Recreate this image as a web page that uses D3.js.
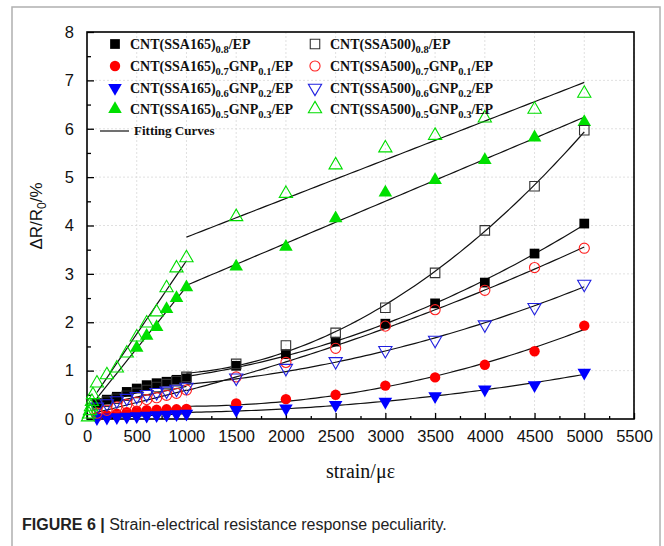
<!DOCTYPE html>
<html>
<head>
<meta charset="utf-8">
<script src="https://cdn.jsdelivr.net/npm/d3@7"></script>
<style>
  body { margin: 0; background: #fff; }
  svg { display: block; }
</style>
</head>
<body>
<div id="chart"></div>
<script>
// strain points (με)
const STRAIN_START = [10, 20, 30, 40, 50, 60];
const STRAIN_LOW = [100, 200, 300, 400, 500, 600, 700, 800, 900, 1000];
const STRAIN_HIGH = [1500, 2000, 2500, 3000, 3500, 4000, 4500, 5000];

// ΔR/R0 (%), null = no marker
const SSA165_08_LOW = [0.33, 0.40, 0.46, 0.56, 0.63, 0.70, 0.74, 0.77, 0.81, 0.84];
const SSA165_08_HIGH = [1.10, 1.34, 1.60, 1.97, 2.39, 2.82, 3.42, 4.04];
const SSA165_07_LOW = [0.05, 0.08, 0.11, 0.14, 0.17, 0.18, 0.19, 0.20, 0.20, 0.21];
const SSA165_07_HIGH = [0.32, 0.41, 0.50, 0.69, 0.86, 1.12, 1.40, 1.93];
const SSA165_06_LOW = [0.02, 0.03, 0.04, 0.05, 0.06, 0.07, 0.08, 0.09, 0.10, 0.11];
const SSA165_06_HIGH = [0.19, 0.22, 0.29, 0.36, 0.47, 0.61, 0.70, 0.96];
const SSA165_05_LOW = [null, null, null, null, 1.47, 1.72, 1.90, 2.27, 2.50, 2.72];
const SSA165_05_HIGH = [3.15, 3.56, 4.15, 4.68, 4.94, 5.35, 5.82, 6.14];

const SSA500_08_LOW = [0.30, 0.36, 0.42, 0.48, 0.54, 0.60, 0.66, 0.72, 0.78, 0.87];
const SSA500_08_HIGH = [1.14, 1.52, 1.78, 2.30, 3.02, 3.90, 4.81, 5.97];
const SSA500_07_LOW = [0.12, 0.18, 0.25, 0.30, 0.35, 0.40, 0.44, 0.49, 0.53, 0.60];
const SSA500_07_HIGH = [0.87, 1.17, 1.46, 1.92, 2.26, 2.66, 3.13, 3.53];
const SSA500_06_LOW = [0.25, 0.32, 0.38, 0.43, 0.47, 0.51, 0.55, 0.58, 0.62, 0.66];
const SSA500_06_HIGH = [0.85, 1.05, 1.19, 1.42, 1.63, 1.95, 2.31, 2.79];
const SSA500_05_START = [0.04, 0.10, 0.17, 0.25, 0.36, 0.50];
const SSA500_05_LOW = [0.74, 0.91, 1.05, 1.36, 1.69, 1.98, 2.21, 2.71, 3.12, 3.33];
const SSA500_05_HIGH = [4.18, 4.66, 5.25, 5.60, 5.86, 6.22, 6.40, 6.73];

const X_TICKS = d3.range(0, 5501, 500);
const Y_TICKS = d3.range(0, 9, 1);

const SERIES = [
  { label: [['CNT(SSA165)', 0], ['0.8', 1], ['/EP', 0]], low: SSA165_08_LOW, high: SSA165_08_HIGH,
    shape: 'square', fill: true, color: '#000000', fit: 'quad' },
  { label: [['CNT(SSA165)', 0], ['0.7', 1], ['GNP', 0], ['0.1', 1], ['/EP', 0]], low: SSA165_07_LOW, high: SSA165_07_HIGH,
    shape: 'circle', fill: true, color: '#ff0000', fit: 'quad' },
  { label: [['CNT(SSA165)', 0], ['0.6', 1], ['GNP', 0], ['0.2', 1], ['/EP', 0]], low: SSA165_06_LOW, high: SSA165_06_HIGH,
    shape: 'down', fill: true, color: '#0000ff', fit: 'quad' },
  { label: [['CNT(SSA165)', 0], ['0.5', 1], ['GNP', 0], ['0.3', 1], ['/EP', 0]], low: SSA165_05_LOW, high: SSA165_05_HIGH,
    shape: 'up', fill: true, color: '#00e000', fit: 'linear' },
  { label: [['CNT(SSA500)', 0], ['0.8', 1], ['/EP', 0]], low: SSA500_08_LOW, high: SSA500_08_HIGH,
    shape: 'square', fill: false, color: '#333333', fit: 'quad' },
  { label: [['CNT(SSA500)', 0], ['0.7', 1], ['GNP', 0], ['0.1', 1], ['/EP', 0]], low: SSA500_07_LOW, high: SSA500_07_HIGH,
    shape: 'circle', fill: false, color: '#ff2020', fit: 'quad' },
  { label: [['CNT(SSA500)', 0], ['0.6', 1], ['GNP', 0], ['0.2', 1], ['/EP', 0]], low: SSA500_06_LOW, high: SSA500_06_HIGH,
    shape: 'down', fill: false, color: '#2020e0', fit: 'quad' },
  { label: [['CNT(SSA500)', 0], ['0.5', 1], ['GNP', 0], ['0.3', 1], ['/EP', 0]], low: SSA500_05_LOW, high: SSA500_05_HIGH,
    start: SSA500_05_START, shape: 'up', fill: false, color: '#00dd00', fit: 'linear' }
];

// least squares, degree 1 or 2
function polyFit(xs, ys, deg) {
  const n = deg + 1;
  const s = 1000; // scale x to keep numbers sane
  const A = Array.from({ length: n }, () => new Array(n).fill(0));
  const b = new Array(n).fill(0);
  xs.forEach((x0, k) => {
    const x = x0 / s;
    for (let i = 0; i < n; i++) {
      b[i] += ys[k] * Math.pow(x, i);
      for (let j = 0; j < n; j++) A[i][j] += Math.pow(x, i + j);
    }
  });
  // gauss elimination
  for (let i = 0; i < n; i++) {
    for (let r = i + 1; r < n; r++) {
      const f = A[r][i] / A[i][i];
      for (let c = i; c < n; c++) A[r][c] -= f * A[i][c];
      b[r] -= f * b[i];
    }
  }
  const coef = new Array(n).fill(0);
  for (let i = n - 1; i >= 0; i--) {
    let v = b[i];
    for (let c = i + 1; c < n; c++) v -= A[i][c] * coef[c];
    coef[i] = v / A[i][i];
  }
  return x0 => coef.reduce((acc, c, i) => acc + c * Math.pow(x0 / s, i), 0);
}

const width = 664;
const height = 546;
const plot = { left: 87, right: 634, top: 32, bottom: 419 };

const svg = d3.select('#chart').append('svg').attr('width', width).attr('height', height);

// outer figure frame
svg.append('rect')
  .attr('x', 12).attr('y', 7).attr('width', 648).attr('height', 600)
  .attr('fill', 'none').attr('stroke', '#b0b0b0').attr('stroke-width', 1.5);

const x = d3.scaleLinear().domain([0, 5500]).range([plot.left, plot.right]);
const y = d3.scaleLinear().domain([0, 8]).range([plot.bottom, plot.top]);

// grid
const grid = svg.append('g').attr('stroke', '#d8d8d8').attr('stroke-dasharray', '2,2').attr('stroke-width', 0.8);
X_TICKS.slice(1).forEach(t => {
  grid.append('line').attr('x1', x(t)).attr('x2', x(t)).attr('y1', plot.top).attr('y2', plot.bottom);
});
Y_TICKS.slice(1, -1).forEach(t => {
  grid.append('line').attr('x1', plot.left).attr('x2', plot.right).attr('y1', y(t)).attr('y2', y(t));
});

// axes, ticks pointing in
svg.append('g')
  .attr('transform', `translate(0,${plot.bottom})`)
  .call(d3.axisBottom(x).tickValues(X_TICKS).tickFormat(d3.format('d')).tickSize(-6).tickSizeOuter(0).tickPadding(11));
svg.append('g')
  .attr('transform', `translate(0,${plot.bottom})`)
  .call(d3.axisBottom(x).tickValues(d3.range(250, 5500, 500)).tickSize(-3).tickSizeOuter(0).tickFormat(''));
svg.append('g')
  .attr('transform', `translate(${plot.left},0)`)
  .call(d3.axisLeft(y).tickValues(Y_TICKS).tickFormat(d3.format('d')).tickSize(-7).tickSizeOuter(0).tickPadding(13));
svg.append('g')
  .attr('transform', `translate(${plot.left},0)`)
  .call(d3.axisLeft(y).tickValues(d3.range(0.5, 8, 1)).tickSize(-4).tickSizeOuter(0).tickFormat(''));

svg.selectAll('.domain').remove();
svg.selectAll('.tick line').attr('stroke', '#000').attr('stroke-width', 1.3);
svg.selectAll('.tick text')
  .attr('font-family', '"Liberation Sans", Arial, sans-serif')
  .attr('font-size', 16.5)
  .attr('fill', '#111');

// frame
svg.append('rect')
  .attr('x', plot.left).attr('y', plot.top)
  .attr('width', plot.right - plot.left).attr('height', plot.bottom - plot.top)
  .attr('fill', 'none').attr('stroke', '#000').attr('stroke-width', 1.6);

// fitting curves
const fitLine = d3.line().x(d => x(d[0])).y(d => y(d[1]));
const fits = svg.append('g').attr('fill', 'none').attr('stroke', '#111').attr('stroke-width', 1.2);
SERIES.forEach(s => {
  const lowPts = STRAIN_LOW.map((t, i) => [t, s.low[i]]).filter(d => d[1] != null);
  const fLow = polyFit(lowPts.map(d => d[0]), lowPts.map(d => d[1]), 1);
  fits.append('path').attr('d', fitLine(d3.range(100, 1001, 50).map(t => [t, fLow(t)])));

  const highPts = [[1000, s.low[s.low.length - 1]]].concat(STRAIN_HIGH.map((t, i) => [t, s.high[i]]));
  const fHigh = polyFit(highPts.map(d => d[0]), highPts.map(d => d[1]), s.fit === 'quad' ? 2 : 1);
  fits.append('path').attr('d', fitLine(d3.range(1000, 5001, 50).map(t => [t, fHigh(t)])));
});

// markers
const SHAPES = {
  square: { type: d3.symbolSquare, size: 95, rot: 0 },
  circle: { type: d3.symbolCircle, size: 85, rot: 0 },
  up: { type: d3.symbolTriangle, size: 80, rot: 0 },
  down: { type: d3.symbolTriangle, size: 80, rot: 180 }
};
function drawMarker(g, s, px, py) {
  const sh = SHAPES[s.shape];
  g.append('path')
    .attr('d', d3.symbol().type(sh.type).size(s.fill ? sh.size : sh.size * 0.95)())
    .attr('transform', `translate(${px},${py}) rotate(${sh.rot})`)
    .attr('fill', s.fill ? s.color : 'none')
    .attr('stroke', s.color)
    .attr('stroke-width', s.fill ? 0 : 1.1);
}
const marks = svg.append('g');
// filled series first, open ones on top
SERIES.forEach(s => {
  const pts = STRAIN_LOW.map((t, i) => [t, s.low[i]])
    .concat(STRAIN_HIGH.map((t, i) => [t, s.high[i]]))
    .concat(s.start ? STRAIN_START.map((t, i) => [t, s.start[i]]) : [])
    .filter(d => d[1] != null);
  pts.forEach(d => drawMarker(marks, s, x(d[0]), y(d[1])));
});

// legend
const legend = svg.append('g')
  .attr('font-family', '"Liberation Serif", "Times New Roman", serif')
  .attr('font-weight', 'bold')
  .attr('font-size', 14)
  .attr('fill', '#111');
const ROW_Y = [44, 66, 88, 109];
SERIES.forEach((s, i) => {
  const col = i < 4 ? 0 : 1;
  const mx = col === 0 ? 115 : 315;
  const ty = ROW_Y[i % 4];
  drawMarker(legend, s, mx, ty);
  const t = legend.append('text').attr('x', mx + 15).attr('y', ty + 5);
  s.label.forEach(([str, sub]) => {
    t.append('tspan')
      .attr('font-size', sub ? 10.5 : 14)
      .attr('dy', sub ? 4 : (str === s.label[0][0] ? 0 : -4))
      .text(str);
  });
});
legend.append('line')
  .attr('x1', 100).attr('x2', 129).attr('y1', 131).attr('y2', 131)
  .attr('stroke', '#111').attr('stroke-width', 1.2);
legend.append('text').attr('x', 134).attr('y', 135).attr('font-size', 13).text('Fitting Curves');

// axis titles
svg.append('text')
  .attr('x', x(2750)).attr('y', 478)
  .attr('text-anchor', 'middle')
  .attr('font-family', '"Liberation Serif", "Times New Roman", serif')
  .attr('font-size', 20)
  .attr('fill', '#111')
  .text('strain/με');

const yTitle = svg.append('text')
  .attr('transform', 'translate(42,216) rotate(-90)')
  .attr('text-anchor', 'middle')
  .attr('font-family', '"Liberation Sans", Arial, sans-serif')
  .attr('font-size', 17)
  .attr('fill', '#111');
yTitle.append('tspan').text('\u0394R/R');
yTitle.append('tspan').attr('font-size', 12).attr('dy', 4).text('0');
yTitle.append('tspan').attr('dy', -4).text('/%');

// caption
const cap = svg.append('text')
  .attr('x', 22).attr('y', 530)
  .attr('font-family', '"Liberation Sans", Arial, sans-serif')
  .attr('font-size', 16)
  .attr('fill', '#222');
cap.append('tspan').attr('font-weight', 'bold').text('FIGURE 6 | ');
cap.append('tspan').text('Strain-electrical resistance response peculiarity.');
</script>
</body>
</html>
